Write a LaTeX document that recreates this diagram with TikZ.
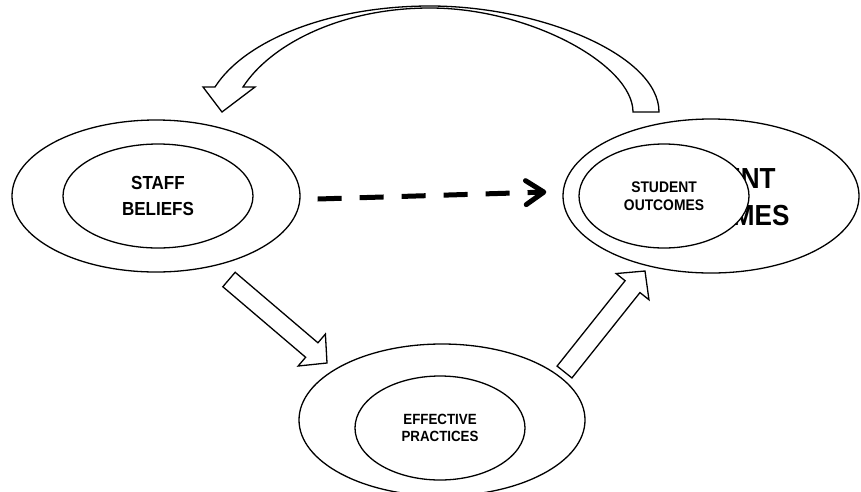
\documentclass[tikz,border=0pt]{standalone}
\usepackage{fontspec}
\setmainfont{Liberation Sans}[FakeStretch=0.9]
\usepackage{tikz}
\usetikzlibrary{shapes.geometric, arrows.meta, calc}

\tikzset{
  ring/.style={ellipse, draw, line width=1.3pt, inner sep=0pt, align=center},
  blockline/.style={draw, fill=white, line width=1.3pt, line join=miter},
  dashline/.style={line width=5pt, dash pattern=on 24pt off 18pt,
    -{Straight Barb[length=18pt,width=24pt,round]}}
}
% hollow block arrow from #1 to #2
\newcommand{\blockarrow}[2]{%
  \coordinate (#1neck) at ($(#2)!20pt!(#1)$);
  \draw[blockline] ($(#1)!9.5pt!90:(#2)$) -- ($(#1neck)!9.5pt!90:(#2)$)
    -- ($(#1neck)!21pt!90:(#2)$) -- (#2) -- ($(#1neck)!21pt!-90:(#2)$)
    -- ($(#1neck)!9.5pt!-90:(#2)$) -- ($(#1)!9.5pt!-90:(#2)$) -- cycle;
}

\begin{document}
\begin{tikzpicture}[x=1pt,y=-1pt]
\useasboundingbox (0,0) rectangle (861,491);

\node[ring, minimum width=288pt, minimum height=152pt] (staff) at (156,196) {};
\node[ring, minimum width=190pt, minimum height=104pt,
  font=\bfseries\fontsize{18.9}{26}\selectfont] (staffin) at (158,196) {STAFF\\BELIEFS};

\node[ring, minimum width=286pt, minimum height=152pt] (practice) at (442,420) {};
\node[ring, minimum width=170pt, minimum height=104pt,
  font=\bfseries\fontsize{14.8}{17.6}\selectfont] (practicein) at (440,428) {EFFECTIVE\\PRACTICES};

\node[ring, minimum width=296pt, minimum height=154pt] (outcome) at (711,196) {};
\node[align=center, font=\bfseries\fontsize{29}{37}\selectfont] (outcomebig) at (714,197)
  {STUDENT\\OUTCOMES};
\node[ring, fill=white, minimum width=170pt, minimum height=104pt,
  font=\bfseries\fontsize{15.4}{18.4}\selectfont] (outcomein) at (664,196) {STUDENT\\OUTCOMES};

\draw[dashline] ($(staff.east)+(17,3)$) -- ($(outcome.west)+(-16,-4)$);

\coordinate (stafftail) at (229,279.5);
\coordinate (practicetip) at (327,363);
\coordinate (practicetail) at (564.5,372);
\coordinate (outcometip) at (645,271);
\blockarrow{stafftail}{practicetip}
\blockarrow{practicetail}{outcometip}

% curved arrow back to the beliefs
\draw[blockline] (633,112) -- (659,112) .. controls (659,55) and (540,6) .. (430,6)
  .. controls (330,6) and (245,40) .. (215,87) -- (203,87) -- (222,112) -- (255,87)
  -- (243,87) .. controls (270,45) and (340,8) .. (430,8)
  .. controls (530,8) and (633,65) .. (633,112) -- cycle;
\end{tikzpicture}
\end{document}
